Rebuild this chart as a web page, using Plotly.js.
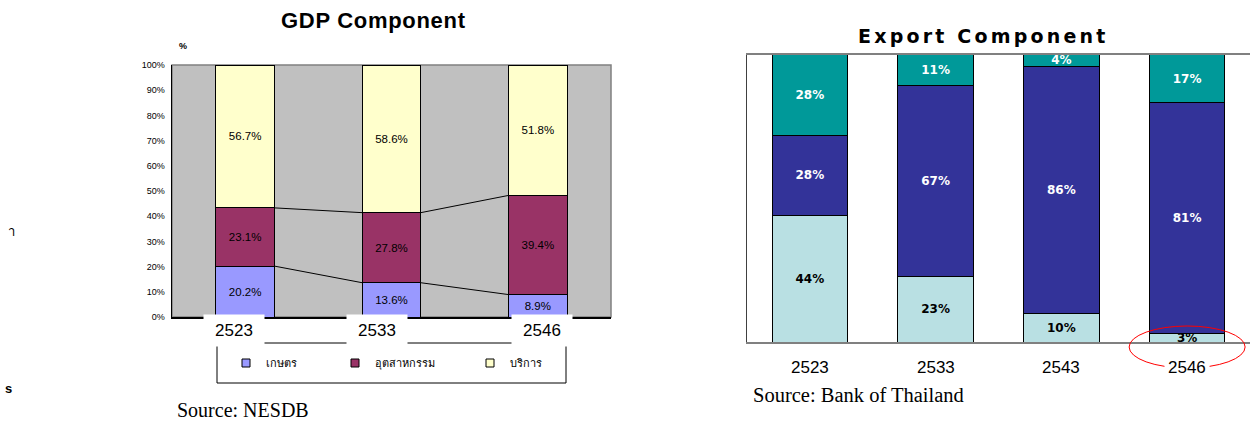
<!DOCTYPE html>
<html>
<head>
<meta charset="utf-8">
<script src="https://cdn.plot.ly/plotly-3.0.1.min.js"></script>
<style>
html,body{margin:0;padding:0;background:#fff;}
text[data-unformatted="Export Component"]{letter-spacing:3.2px;}
text[data-unformatted="GDP Component"]{letter-spacing:0.7px;}
</style>
</head>
<body>
<div id="chart" style="width:1250px;height:421px;"></div>
<script>
// ---- data: GDP component ----
const gdpYears = ['2523', '2533', '2546'];
const gdpAgri = [20.2, 13.6, 8.9];
const gdpIndustry = [23.1, 27.8, 39.4];
const gdpServices = [56.7, 58.6, 51.8];
const gdpNames = ['เกษตร', 'อุตสาหกรรม', 'บริการ'];
const gdpColors = ['#9999FF', '#993366', '#FFFFCC'];
const gdpTicks = [0, 10, 20, 30, 40, 50, 60, 70, 80, 90, 100];

// ---- data: Export component ----
const expYears = ['2523', '2533', '2543', '2546'];
const expLow = [44, 23, 10, 3];
const expMid = [28, 67, 86, 81];
const expTop = [28, 11, 4, 17];

const gIdx = gdpYears.map((_, i) => i);
const eIdx = expYears.map((_, i) => i);
const pct1 = a => a.map(v => v.toFixed(1) + '%');
const pct0 = a => a.map(v => v + '%');

const ARIAL = 'Liberation Sans, Arial, sans-serif';
const SERIF = 'Liberation Serif, Times New Roman, serif';
const WIDE = 'DejaVu Sans, Verdana, sans-serif';

const gdpW = 0.4, expW = 0.6;

function gdpBar(vals, color) {
  return {
    type: 'bar', x: gIdx, y: vals, width: gdpW, showlegend: false,
    xaxis: 'x', yaxis: 'y',
    marker: {color: color, line: {color: '#000', width: 1}},
    text: pct1(vals), textposition: 'inside', insidetextanchor: 'middle',
    textangle: 0, constraintext: 'none',
    textfont: {family: ARIAL, size: 11.5, color: '#000'},
    hoverinfo: 'skip'
  };
}
function legendEntry(name, color, legendId) {
  return {
    type: 'scatter', mode: 'markers', x: [null], y: [null], name: name,
    xaxis: 'x', yaxis: 'y', legend: legendId, showlegend: true,
    marker: {symbol: 'square', size: 8, color: color, line: {color: '#000', width: 1}},
    hoverinfo: 'skip'
  };
}
function expBar(vals, color, txtColor) {
  return {
    type: 'bar', x: eIdx, y: vals, width: expW, showlegend: false,
    xaxis: 'x2', yaxis: 'y2',
    marker: {color: color, line: {color: '#000', width: 1}},
    text: pct0(vals), textposition: 'inside', insidetextanchor: 'middle',
    textangle: 0, constraintext: 'none',
    textfont: {family: WIDE, size: 12, color: txtColor, weight: 'bold'},
    hoverinfo: 'skip'
  };
}

// series lines between stacked GDP bars (normalised cumulative shares)
const totals = gIdx.map(i => gdpAgri[i] + gdpIndustry[i] + gdpServices[i]);
const cum1 = gIdx.map(i => gdpAgri[i] / totals[i] * 100);
const cum2 = gIdx.map(i => (gdpAgri[i] + gdpIndustry[i]) / totals[i] * 100);
function seriesLine(cum) {
  const xs = [], ys = [];
  for (let i = 0; i < gIdx.length - 1; i++) {
    xs.push(gIdx[i] + gdpW / 2, gIdx[i + 1] - gdpW / 2, null);
    ys.push(cum[i], cum[i + 1], null);
  }
  return {type: 'scatter', mode: 'lines', x: xs, y: ys, xaxis: 'x', yaxis: 'y',
          line: {color: '#000', width: 1}, showlegend: false, hoverinfo: 'skip'};
}

const data = [
  gdpBar(gdpAgri, gdpColors[0]),
  gdpBar(gdpIndustry, gdpColors[1]),
  gdpBar(gdpServices, gdpColors[2]),
  seriesLine(cum1),
  seriesLine(cum2),
  legendEntry(gdpNames[0], gdpColors[0], 'legend'),
  legendEntry(gdpNames[1], gdpColors[1], 'legend2'),
  legendEntry(gdpNames[2], gdpColors[2], 'legend3'),
  expBar(expLow, '#B9E0E3', '#000'),
  expBar(expMid, '#333399', '#fff'),
  expBar(expTop, '#009999', '#fff')
];

const W = 1250, H = 421;
const px = x => x / W;
const py = y => (H - y) / H;

const annotations = [];
// titles
annotations.push({text: 'GDP Component', xref: 'paper', yref: 'paper', x: px(373), y: py(20),
  xanchor: 'center', yanchor: 'middle', showarrow: false,
  font: {family: ARIAL, size: 22, color: '#000', weight: 'bold'}});
annotations.push({text: 'Export Component', xref: 'paper', yref: 'paper', x: px(983), y: py(36),
  xanchor: 'center', yanchor: 'middle', showarrow: false,
  font: {family: WIDE, size: 19, color: '#000', weight: 'bold'}});
// % unit label
annotations.push({text: '%', xref: 'paper', yref: 'paper', x: px(183), y: py(46),
  xanchor: 'center', yanchor: 'middle', showarrow: false,
  font: {family: ARIAL, size: 9, color: '#000', weight: 'bold'}});
// GDP category labels (white boxes)
const gdpShift = [-11, -15, 4];
gIdx.forEach(i => annotations.push({
  text: gdpYears[i], xref: 'x', yref: 'paper', x: gIdx[i], xshift: gdpShift[i], y: py(330.5),
  xanchor: 'center', yanchor: 'middle', showarrow: false, width: 58, height: 29,
  bgcolor: '#fff', font: {family: ARIAL, size: 17, color: '#000'}}));
// Export category labels
eIdx.forEach(i => annotations.push({
  text: expYears[i], xref: 'x2', yref: 'paper', x: eIdx[i], y: py(367),
  xanchor: 'center', yanchor: 'middle', showarrow: false, borderpad: 3,
  bgcolor: '#fff', font: {family: ARIAL, size: 17, color: '#000'}}));
// sources
annotations.push({text: 'Source: NESDB', xref: 'paper', yref: 'paper', x: px(176), y: py(409.5),
  xanchor: 'left', yanchor: 'middle', showarrow: false, borderpad: 0,
  font: {family: SERIF, size: 20, color: '#000'}});
annotations.push({text: 'Source: Bank of Thailand', xref: 'paper', yref: 'paper', x: px(751), y: py(395),
  xanchor: 'left', yanchor: 'middle', showarrow: false,
  font: {family: SERIF, size: 20.5, color: '#000'}});
// stray cropped glyphs at the left edge
annotations.push({text: 'า', xref: 'paper', yref: 'paper', x: px(11), y: py(231),
  xanchor: 'center', yanchor: 'middle', showarrow: false,
  font: {family: 'Noto Sans, DejaVu Sans, sans-serif', size: 13, color: '#000'}});
annotations.push({text: 's', xref: 'paper', yref: 'paper', x: px(8), y: py(388),
  xanchor: 'center', yanchor: 'middle', showarrow: false,
  font: {family: ARIAL, size: 13, color: '#000', weight: 'bold'}});

const shapes = [
  // grey plot area for GDP chart
  {type: 'rect', xref: 'x domain', yref: 'y domain', x0: 0, x1: 1, y0: 0, y1: 1,
   fillcolor: '#C0C0C0', line: {width: 0}, layer: 'below'},
  // GDP plot border (grey)
  {type: 'rect', xref: 'x domain', yref: 'y domain', x0: 0, x1: 1, y0: 0, y1: 1,
   line: {color: '#808080', width: 1.5}, layer: 'below'},
  // GDP legend box
  {type: 'rect', xref: 'paper', yref: 'paper', x0: px(217), x1: px(566), y0: py(383), y1: py(343),
   line: {color: '#000', width: 1}},
  // red ellipse around 2546
  {type: 'circle', xref: 'x2', yref: 'paper', xsizemode: 'pixel', ysizemode: 'pixel',
   xanchor: 3, yanchor: py(342), x0: -58, x1: 58, y0: -26, y1: 16,
   line: {color: '#FF0000', width: 1}, layer: 'above'}
];

const legendFont = {family: 'Noto Sans, DejaVu Sans, sans-serif', size: 11, color: '#000'};
function legendAt(x) {
  return {x: px(x), y: py(363), xanchor: 'left', yanchor: 'middle', orientation: 'h',
          bgcolor: 'rgba(0,0,0,0)', borderwidth: 0, font: legendFont, itemwidth: 30};
}

const layout = {
  width: W, height: H, autosize: false,
  margin: {l: 0, r: 0, t: 0, b: 0, pad: 0},
  paper_bgcolor: '#fff', plot_bgcolor: 'rgba(0,0,0,0)',
  barmode: 'stack', barnorm: 'percent',
  hovermode: false,
  xaxis: {domain: [px(172), px(611)], range: [-0.5, 2.5], anchor: 'y',
          showgrid: false, zeroline: false, showticklabels: false, ticks: '',
          showline: true, linecolor: '#000', linewidth: 1.5, fixedrange: true},
  yaxis: {domain: [py(317), py(65)], range: [0, 100], anchor: 'x',
          tickvals: gdpTicks, ticktext: gdpTicks.map(v => v + '%'),
          tickfont: {family: ARIAL, size: 9, color: '#000'}, ticks: '',
          ticklabelstandoff: 4,
          showgrid: false, zeroline: false, showline: true, linecolor: '#000', linewidth: 1.5,
          fixedrange: true},
  xaxis2: {domain: [px(747), 1], range: [-0.5, 3.5], anchor: 'y2',
           showgrid: false, zeroline: false, showticklabels: false, ticks: '',
           showline: true, mirror: true, linecolor: '#808080', linewidth: 2, fixedrange: true},
  yaxis2: {domain: [py(342), py(54.5)], range: [0, 100], anchor: 'x2',
           showgrid: false, zeroline: false, showticklabels: false, ticks: '',
           showline: true, linecolor: '#404040', linewidth: 1.5, fixedrange: true},
  legend: legendAt(226),
  legend2: legendAt(335),
  legend3: legendAt(470),
  shapes: shapes,
  annotations: annotations
};

Plotly.newPlot('chart', data, layout, {staticPlot: true, displayModeBar: false});
</script>
</body>
</html>
